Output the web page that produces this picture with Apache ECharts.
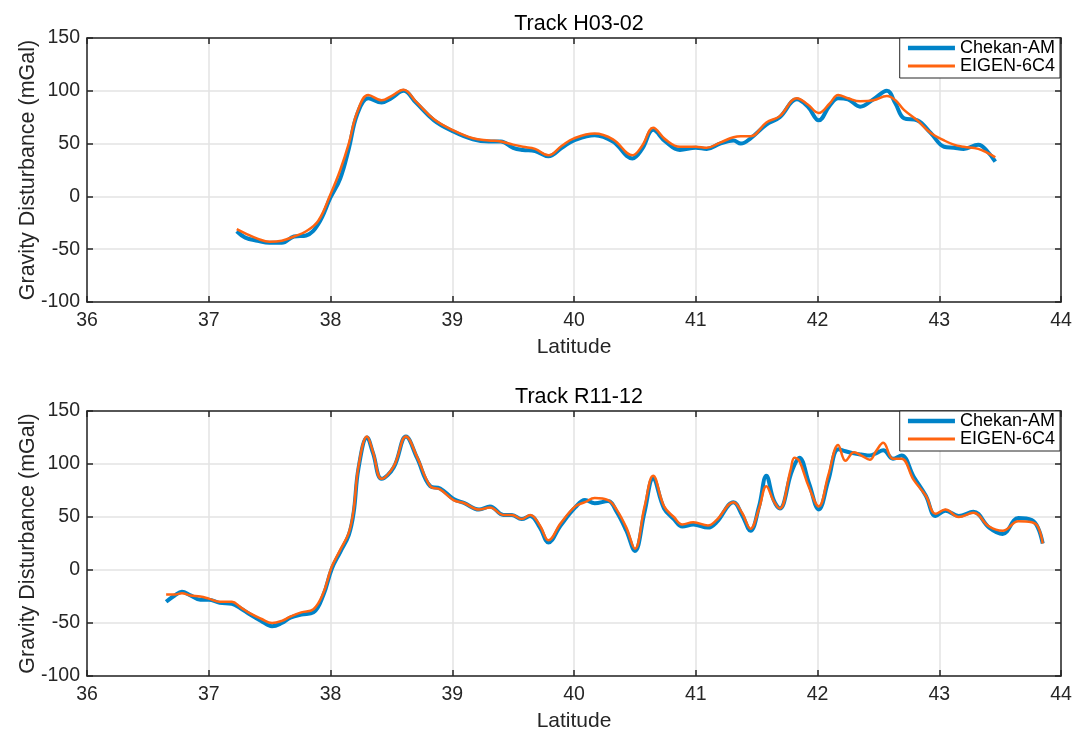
<!DOCTYPE html>
<html>
<head>
<meta charset="utf-8">
<script src="https://cdn.jsdelivr.net/npm/echarts@6/dist/echarts.min.js"></script>
<style>
  html, body { margin: 0; padding: 0; background: #fff; }
  #chart { width: 1089px; height: 730px; }
</style>
</head>
<body>
<div id="chart"></div>
<script>
// ---------- DATA ----------
const titles = ['Track H03-02', 'Track R11-12'];
const seriesNames = ['Chekan-AM', 'EIGEN-6C4'];
const xTicks = [36, 37, 38, 39, 40, 41, 42, 43, 44];
const yTicks = [-100, -50, 0, 50, 100, 150];

const topLat = [37.23, 37.30, 37.40, 37.50, 37.60, 37.70, 37.80, 37.90, 38.00, 38.08, 38.15, 38.22, 38.31, 38.42, 38.50, 38.60, 38.70, 38.85, 39.00, 39.17, 39.30, 39.40, 39.50, 39.58, 39.68, 39.79, 39.90, 40.00, 40.17, 40.32, 40.48, 40.56, 40.65, 40.75, 40.87, 41.00, 41.09, 41.20, 41.31, 41.37, 41.45, 41.58, 41.69, 41.83, 41.92, 42.01, 42.10, 42.17, 42.25, 42.35, 42.46, 42.57, 42.64, 42.71, 42.82, 42.93, 43.04, 43.12, 43.20, 43.32, 43.40, 43.46];
const topChekan = [-33, -39, -42, -44, -44, -38, -37, -26, -1, 17, 45, 78, 93, 89, 93, 100, 89, 72, 62, 54, 52, 52, 46, 44, 43, 38, 46, 53, 58, 52, 36, 45, 63, 52, 44, 46, 45, 50, 53, 50, 55, 68, 75, 92, 85, 72, 86, 93, 92, 85, 92, 100, 88, 74, 72, 60, 47, 46, 45, 49, 42, 33];
const topEigen = [-31, -35, -40, -43, -42, -38, -33, -23, 2, 25, 50, 80, 96, 91, 95, 101, 90, 73, 63, 55, 53, 52, 49, 47, 45, 39, 48, 55, 59.5, 54, 39, 48, 65, 54, 47, 47, 46, 51, 56, 57, 57, 70, 76, 93, 87, 79, 88, 96, 93, 90, 91, 95, 91, 82, 72, 60, 53, 49, 47, 45, 41, 37];

const botLat = [36.65, 36.72, 36.78, 36.85, 36.93, 37.00, 37.09, 37.19, 37.26, 37.34, 37.43, 37.52, 37.60, 37.67, 37.76, 37.86, 37.94, 38.01, 38.08, 38.15, 38.19, 38.23, 38.30, 38.35, 38.42, 38.52, 38.62, 38.71, 38.82, 38.90, 39.01, 39.10, 39.22, 39.31, 39.42, 39.49, 39.57, 39.64, 39.72, 39.79, 39.89, 40.01, 40.09, 40.17, 40.28, 40.35, 40.43, 40.50, 40.58, 40.65, 40.74, 40.82, 40.89, 40.98, 41.10, 41.17, 41.31, 41.38, 41.45, 41.52, 41.58, 41.64, 41.69, 41.78, 41.81, 41.85, 41.93, 42.01, 42.09, 42.17, 42.23, 42.30, 42.36, 42.43, 42.48, 42.54, 42.62, 42.69, 42.79, 42.89, 42.97, 43.05, 43.16, 43.28, 43.41, 43.52, 43.65, 43.76, 43.81, 43.85];
const botChekan = [-30, -24, -20.5, -24, -28, -28, -31, -32, -36, -42, -48, -53, -50, -45, -42, -40, -24, 1, 17, 33, 54, 96, 125, 110, 86, 97, 126, 106, 79, 77, 67, 63, 57, 60, 52, 52, 48, 51, 40, 26, 42, 59, 66, 63, 65, 55, 37, 18, 55, 86, 58, 48, 41, 43, 40, 45, 64, 52, 37, 60, 89, 66, 58, 90, 99, 106, 82, 57, 85, 114, 112, 110, 109, 108, 110, 113, 105, 108, 88, 70, 51, 56, 51, 55, 40, 34, 49, 47, 40, 25];
const botEigen = [-23, -23, -22, -24, -25, -27, -30, -30, -35, -41, -46, -50, -48, -44, -40, -37, -22, 3, 19, 35, 57, 98, 126, 111, 86, 98, 126, 107, 79, 76, 66, 63, 57, 59, 52, 52, 48, 52, 42, 28, 44, 60, 64, 68, 66, 57, 40, 20, 60, 89, 60, 50, 43, 45, 42, 47, 64, 54, 39, 58, 79, 65, 58, 95, 106, 103, 78, 60, 90, 118, 103, 111, 108, 104, 112, 120, 105, 105, 85, 70, 53, 57, 50, 54, 41, 37, 46, 45, 41, 25];

// ---------- CHART ----------
const FONT = '"Liberation Sans", Arial, Helvetica, sans-serif';
const BLUE = '#0083C8';
const ORANGE = '#FF6410';
const AXIS = '#262626';
const GRIDC = '#e3e3e3';

const grids = [
  { left: 87, right: 28, top: 38, height: 264, outerBoundsMode: 'none', containLabel: false },
  { left: 87, right: 28, top: 411, height: 265, outerBoundsMode: 'none', containLabel: false }
];

function pairs(xs, ys) { return xs.map((x, i) => [x, ys[i]]); }

const lineAx = { show: true, onZero: false, lineStyle: { color: AXIS, width: 1.5 } };
const tickAx = { show: true, inside: true, length: 6, lineStyle: { color: AXIS, width: 1.5 } };

const xAxes = [], yAxes = [];
grids.forEach((g, gi) => {
  xAxes.push({
    type: 'value', gridIndex: gi, min: xTicks[0], max: xTicks[xTicks.length - 1], interval: 1,
    position: 'bottom',
    name: 'Latitude', nameLocation: 'middle', nameGap: 35, nameMoveOverlap: false,
    nameTextStyle: { fontFamily: FONT, fontSize: 21, color: AXIS },
    axisLine: lineAx, axisTick: tickAx,
    axisLabel: { fontFamily: FONT, fontSize: 19.5, color: AXIS, margin: 9 },
    splitLine: { show: true, lineStyle: { color: GRIDC, width: 1.5 } }
  });
  xAxes.push({
    type: 'value', gridIndex: gi, min: xTicks[0], max: xTicks[xTicks.length - 1], interval: 1,
    position: 'top',
    axisLine: lineAx, axisTick: tickAx,
    axisLabel: { show: false }, splitLine: { show: false }
  });
  yAxes.push({
    type: 'value', gridIndex: gi, min: yTicks[0], max: yTicks[yTicks.length - 1], interval: 50,
    position: 'left',
    name: 'Gravity Disturbance (mGal)', nameLocation: 'middle', nameGap: 48, nameMoveOverlap: false,
    nameTextStyle: { fontFamily: FONT, fontSize: 21.5, color: AXIS },
    axisLine: lineAx, axisTick: tickAx,
    axisLabel: { fontFamily: FONT, fontSize: 19.5, color: AXIS, margin: 7 },
    splitLine: { show: true, lineStyle: { color: GRIDC, width: 1.5 } }
  });
  yAxes.push({
    type: 'value', gridIndex: gi, min: yTicks[0], max: yTicks[yTicks.length - 1], interval: 50,
    position: 'right',
    axisLine: lineAx, axisTick: tickAx,
    axisLabel: { show: false }, splitLine: { show: false }
  });
});

const dataSets = [
  [pairs(topLat, topChekan), pairs(topLat, topEigen)],
  [pairs(botLat, botChekan), pairs(botLat, botEigen)]
];

const series = [];
dataSets.forEach((ds, gi) => {
  series.push({
    name: seriesNames[0], type: 'line', xAxisIndex: gi * 2, yAxisIndex: gi * 2,
    data: ds[0], smooth: 0.4, symbol: 'none', lineStyle: { color: BLUE, width: 4 },
    itemStyle: { color: BLUE }, z: 3, animation: false
  });
  series.push({
    name: seriesNames[1], type: 'line', xAxisIndex: gi * 2, yAxisIndex: gi * 2,
    data: ds[1], smooth: 0.4, symbol: 'none', lineStyle: { color: ORANGE, width: 2.5 },
    itemStyle: { color: ORANGE }, z: 4, animation: false
  });
});

const legendBase = {
  orient: 'vertical', right: 29, itemGap: 0, itemWidth: 47, itemHeight: 4,
  padding: [1, 5, 3, 6], borderColor: AXIS, borderWidth: 1, backgroundColor: '#fff',
  textStyle: { fontFamily: FONT, fontSize: 18, lineHeight: 18, color: '#000' },
  data: [
    { name: seriesNames[0], itemStyle: { opacity: 0 }, lineStyle: { width: 4.5 } },
    { name: seriesNames[1], itemStyle: { opacity: 0 }, lineStyle: { width: 3 } }
  ],
  selectedMode: false
};

const option = {
  backgroundColor: '#fff',
  animation: false,
  title: [
    { text: titles[0], left: 574, textAlign: 'center', top: 8,
      textStyle: { fontFamily: FONT, fontSize: 21.5, fontWeight: 'normal', color: '#000' } },
    { text: titles[1], left: 574, textAlign: 'center', top: 381,
      textStyle: { fontFamily: FONT, fontSize: 21.5, fontWeight: 'normal', color: '#000' } }
  ],
  legend: [
    Object.assign({}, legendBase, { top: 38 }),
    Object.assign({}, legendBase, { top: 411 })
  ],
  grid: grids,
  xAxis: xAxes,
  yAxis: yAxes,
  series: series
};

const chart = echarts.init(document.getElementById('chart'), null, { renderer: 'canvas' });
chart.setOption(option);
</script>
</body>
</html>
